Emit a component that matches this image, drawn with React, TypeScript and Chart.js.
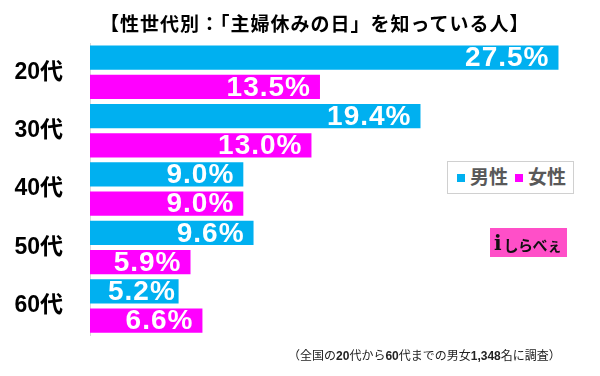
import React, { useEffect, useRef } from "react";
import { Chart, registerables } from "chart.js";

Chart.register(...registerables);

const categories = ["20代", "30代", "40代", "50代", "60代"];
const seriesNames = ["男性", "女性"];
const maleValues = [27.5, 19.4, 9.0, 9.6, 5.2];
const femaleValues = [13.5, 13.0, 9.0, 5.9, 6.6];
const titleText = "【性世代別：「主婦休みの日」を知っている人】";
const noteParts = [
  { t: "（全国の", b: false },
  { t: "20", b: true },
  { t: "代から", b: false },
  { t: "60", b: true },
  { t: "代までの男女", b: false },
  { t: "1,348", b: true },
  { t: "名に調査）", b: false },
];
const logoText = "しらべぇ";

const MALE = "#00B0F0";
const FEMALE = "#FF00FF";
const COLORS = [MALE, FEMALE];
const FONT = "'Liberation Sans', Arial, 'Noto Sans CJK JP', sans-serif";

const valueLabels = {
  id: "valueLabels",
  afterDatasetsDraw(chart: any) {
    const ctx = chart.ctx;
    ctx.save();
    ctx.font = `bold 28px ${FONT}`;
    ctx.fillStyle = "#ffffff";
    ctx.textBaseline = "middle";
    ctx.textAlign = "left";
    (ctx as any).letterSpacing = "1px";
    chart.data.datasets.forEach((ds: any, di: number) => {
      const meta = chart.getDatasetMeta(di);
      meta.data.forEach((el: any, i: number) => {
        const v = ds.data[i] as number;
        const txt = v.toFixed(1) + "%";
        const w = ctx.measureText(txt).width;
        let x = el.x - 9 - w;
        const minX = el.base + 18;
        if (x < minX) x = minX;
        ctx.fillText(txt, x, el.y + 1);
      });
    });
    ctx.restore();
  },
};

export default function App() {
  const ref = useRef<HTMLCanvasElement | null>(null);

  useEffect(() => {
    document.body.style.margin = "0";
    const canvas = ref.current;
    if (!canvas) return;
    const chart = new Chart(canvas, {
      type: "bar",
      data: {
        labels: categories,
        datasets: [maleValues, femaleValues].map((d, i) => ({
          label: seriesNames[i],
          data: d,
          backgroundColor: COLORS[i],
          borderWidth: 0,
          barPercentage: 0.83,
          categoryPercentage: 1,
        })),
      },
      options: {
        indexAxis: "y",
        responsive: false,
        animation: false,
        devicePixelRatio: 1,
        layout: { padding: { top: 43, bottom: 33, left: 0, right: 33 } },
        plugins: {
          legend: { display: false },
          title: { display: false },
          tooltip: { enabled: false },
        },
        scales: {
          x: { display: false, min: 0, max: 28 },
          y: {
            afterFit: (s: any) => {
              s.width = 90;
            },
            grid: { drawOnChartArea: false, drawTicks: false },
            border: { display: true, color: "#d9d9d9", width: 1 },
            ticks: {
              color: "#000000",
              padding: 27,
              font: { family: FONT, size: 23, weight: "bold" },
            },
          },
        },
      },
      plugins: [valueLabels],
    } as any);
    return () => chart.destroy();
  }, []);

  const legendItem = (name: string, color: string) => (
    <div style={{ display: "flex", alignItems: "center", marginRight: 7 }}>
      <span style={{ display: "inline-block", width: 8, height: 8, background: color, marginRight: 5 }} />
      <span style={{ fontWeight: "bold", fontSize: 19, color: "#595959", fontFamily: FONT, lineHeight: "20px" }}>{name}</span>
    </div>
  );

  return (
    <div style={{ position: "absolute", left: 0, top: 0, width: 600, height: 376, background: "#fff", overflow: "hidden" }}>
      <canvas ref={ref} width={600} height={376} style={{ position: "absolute", left: 0, top: 0, width: 600, height: 376 }} />
      <div
        style={{
          position: "absolute",
          left: 100,
          top: 15,
          whiteSpace: "nowrap",
          fontFamily: FONT,
          fontWeight: "bold",
          fontSize: 19,
          lineHeight: "19px",
          letterSpacing: "1px",
          color: "#000",
        }}
      >
        {titleText}
      </div>
      <div
        style={{
          position: "absolute",
          left: 447,
          top: 161,
          width: 116,
          height: 31,
          border: "1px solid #d0d0d0",
          background: "#fff",
          display: "flex",
          alignItems: "center",
          paddingLeft: 9,
          boxSizing: "content-box",
        }}
      >
        {legendItem(seriesNames[0], MALE)}
        {legendItem(seriesNames[1], FEMALE)}
      </div>
      <div
        style={{
          position: "absolute",
          left: 490,
          top: 228,
          width: 77,
          height: 29,
          background: "#FF4FC8",
          display: "flex",
          alignItems: "center",
          whiteSpace: "nowrap",
          overflow: "hidden",
          fontFamily: "'Noto Sans CJK JP', sans-serif",
          color: "#111",
        }}
      >
        <span style={{ fontFamily: "'DejaVu Serif', serif", fontWeight: "bold", fontSize: 20, marginLeft: 4, marginRight: 2, lineHeight: "20px" }}>i</span>
        <span style={{ fontWeight: "bold", fontSize: 15, lineHeight: "16px", marginTop: 5, letterSpacing: "-0.5px" }}>{logoText}</span>
      </div>
      <div
        style={{
          position: "absolute",
          left: 288,
          top: 349,
          whiteSpace: "nowrap",
          fontFamily: FONT,
          fontSize: 12,
          lineHeight: "14px",
          color: "#222",
        }}
      >
        {noteParts.map((p, i) => (
          <span key={i} style={{ fontWeight: p.b ? "bold" : "normal" }}>{p.t}</span>
        ))}
      </div>
    </div>
  );
}
